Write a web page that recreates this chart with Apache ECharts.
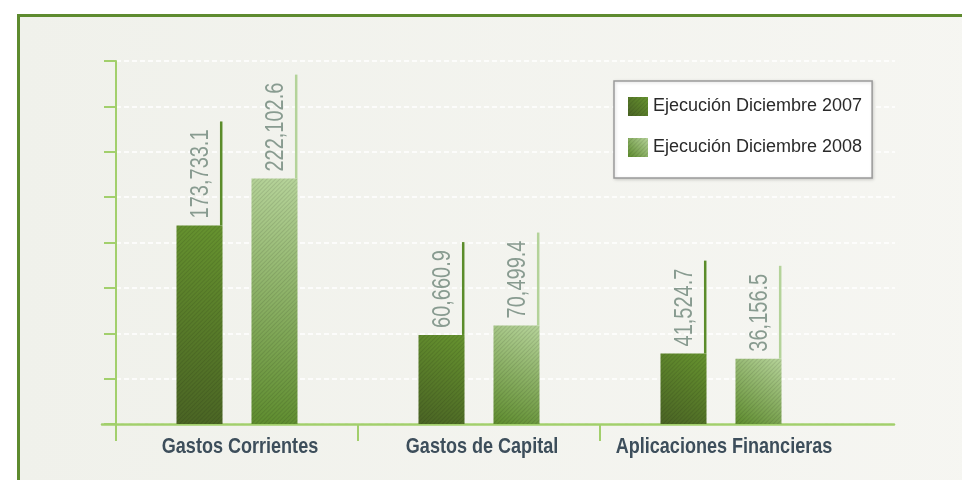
<!DOCTYPE html>
<html><head><meta charset="utf-8">
<script src="https://cdn.jsdelivr.net/npm/echarts@6/dist/echarts.min.js"></script>
<style>html,body{margin:0;padding:0;background:#fff}#c{width:962px;height:480px}</style>
</head><body><div id="c"></div>
<script>
// ---- data ----
const categories = ['Gastos Corrientes', 'Gastos de Capital', 'Aplicaciones Financieras'];
const seriesNames = ['Ejecución Diciembre 2007', 'Ejecución Diciembre 2008'];
const values2007 = [173733.1, 60660.9, 41524.7];
const values2008 = [222102.6, 70499.4, 36156.5];

// ---- styling / layout ----
const FONT = '"Liberation Sans", Arial, sans-serif';
const GREEN_AXIS = '#a2cf6c';
const LABEL_FONT_SIZE = 25;
const BAR_W = 46, BAR_GAP = '63%';
const PLOT_TOP = 61, PLOT_H = 363;
const BAND = 242;
const Y_MIN = -31300, Y_MAX = 343500;

function fmt(v) {
  return v.toLocaleString('en-US', {minimumFractionDigits: 1, maximumFractionDigits: 1});
}
const mctx = document.createElement('canvas').getContext('2d');
mctx.font = LABEL_FONT_SIZE + 'px ' + FONT;
function measure(t) { return mctx.measureText(t).width; }
const LABEL_SCALE = 0.8;

const grad2007 = new echarts.graphic.LinearGradient(0, 1, 1, 0, [
  {offset: 0, color: '#4a6424'}, {offset: 1, color: '#66932f'}]);
const grad2008 = new echarts.graphic.LinearGradient(0, 1, 1, 0, [
  {offset: 0, color: '#5e8c2e'}, {offset: 1, color: '#b6d39a'}]);
const hatch = {symbol: 'rect', symbolSize: 1, dashArrayX: [1, 0], dashArrayY: [1, 2],
  rotation: -Math.PI / 4, color: 'rgba(0,0,0,0.10)'};

function annot(seriesIdx, lineColor) {
  return function (params, api) {
    const cat = api.value(0), val = api.value(1);
    const pt = api.coord([cat, val]);
    let off;
    const lay = api.barLayout ? api.barLayout({count: 2, barWidth: BAR_W, barGap: BAR_GAP}) : null;
    if (lay && lay[seriesIdx]) off = lay[seriesIdx].offset + lay[seriesIdx].width;
    else off = (seriesIdx === 0 ? -BAR_W * 0.315 : BAR_W * 1.315);
    const xr = pt[0] + off - 1.3;
    const label = fmt(val);
    const tw = measure(label) * LABEL_SCALE;
    return {
      type: 'group',
      children: [
        {type: 'line', shape: {x1: xr, y1: pt[1], x2: xr, y2: pt[1] - tw - 15},
          style: {stroke: lineColor, lineWidth: 2.5}},
        {type: 'text', x: xr - 20, y: pt[1] - 7, rotation: Math.PI / 2, scaleX: LABEL_SCALE,
          style: {text: label, fontSize: LABEL_FONT_SIZE, fontFamily: FONT,
            fill: '#889b90', align: 'left', verticalAlign: 'middle'}}
      ]
    };
  };
}

function catLabel(params, api) {
  const i = api.value(0);
  const x = api.coord([i, 0])[0];
  const cs = params.coordSys;
  return {
    type: 'text', x: x + 3, y: cs.y + cs.height + 12, scaleX: 0.82,
    style: {text: categories[params.dataIndex], fontSize: 22, fontWeight: 'bold', fontFamily: FONT,
      fill: '#3d4e5b', align: 'center', verticalAlign: 'top'}
  };
}

const chart = echarts.init(document.getElementById('c'), null, {renderer: 'canvas'});
chart.setOption({
  animation: false,
  backgroundColor: '#ffffff',
  graphic: [{
    type: 'rect', z: -10, left: 17, top: 14,
    shape: {width: 1000, height: 520},
    style: {
      fill: new echarts.graphic.LinearGradient(0, 0, 1, 0, [
        {offset: 0, color: '#f0f1eb'}, {offset: 1, color: '#f6f6f2'}]),
      stroke: '#5e8b2f', lineWidth: 3
    }
  }],
  legend: {
    data: seriesNames, orient: 'vertical', left: 614, top: 81,
    itemWidth: 20, itemHeight: 19, itemGap: 22, icon: 'rect',
    padding: [16, 10, 21, 14],
    backgroundColor: '#ffffff', borderColor: '#9a9a9a', borderWidth: 1.5,
    shadowColor: 'rgba(0,0,0,0.15)', shadowBlur: 3, shadowOffsetX: 1, shadowOffsetY: 1,
    textStyle: {fontSize: 18, fontFamily: FONT, color: '#2a2a2a'}
  },
  grid: [
    {left: 102, top: PLOT_TOP, width: 792, height: PLOT_H, outerBoundsMode: 'none', containLabel: false},
    {left: 116, top: PLOT_TOP, width: 779, height: PLOT_H, outerBoundsMode: 'none', containLabel: false},
    {left: 116, top: PLOT_TOP, width: BAND * 4, height: PLOT_H, outerBoundsMode: 'none', containLabel: false}
  ],
  xAxis: [
    {gridIndex: 0, type: 'value', min: 0, max: 1, axisLine: {show: true, onZero: false, lineStyle: {color: GREEN_AXIS, width: 2.5}},
      axisTick: {show: false}, axisLabel: {show: false}, splitLine: {show: false}},
    {gridIndex: 1, type: 'value', min: 0, max: 1, show: false},
    {gridIndex: 2, type: 'category', data: categories, max: 3,
      axisLine: {show: false, onZero: false},
      axisTick: {show: true, length: 17, interval: function (i) { return i < categories.length; },
        lineStyle: {color: GREEN_AXIS, width: 2}},
      axisLabel: {show: false}}
  ],
  yAxis: [
    {gridIndex: 0, type: 'value', min: 0, max: 1, show: false},
    {gridIndex: 1, type: 'value', min: 0, max: 8, interval: 1,
      axisLine: {show: true, lineStyle: {color: GREEN_AXIS, width: 2}},
      axisTick: {show: true, length: 12, lineStyle: {color: GREEN_AXIS, width: 2}},
      axisLabel: {show: false},
      splitLine: {show: true, lineStyle: {color: '#ffffff', width: 1.5, type: [5, 3]}}},
    {gridIndex: 2, type: 'value', min: Y_MIN, max: Y_MAX, startValue: Y_MIN, show: false}
  ],
  series: [
    {name: seriesNames[0], type: 'bar', xAxisIndex: 2, yAxisIndex: 2, data: values2007,
      barWidth: BAR_W, barGap: BAR_GAP, itemStyle: {color: grad2007, decal: hatch}},
    {name: seriesNames[1], type: 'bar', xAxisIndex: 2, yAxisIndex: 2, data: values2008,
      barWidth: BAR_W, barGap: BAR_GAP, itemStyle: {color: grad2008, decal: hatch}},
    {type: 'custom', xAxisIndex: 2, yAxisIndex: 2, z: 5,
      data: values2007.map(function (v, i) { return [i, v]; }),
      renderItem: annot(0, '#5b8c2a')},
    {type: 'custom', xAxisIndex: 2, yAxisIndex: 2, z: 5,
      data: values2008.map(function (v, i) { return [i, v]; }),
      renderItem: annot(1, '#b4d39a')},
    {type: 'custom', xAxisIndex: 2, yAxisIndex: 2, z: 5, clip: false,
      data: categories.map(function (c, i) { return [i, 0]; }),
      renderItem: catLabel}
  ]
});
</script>
</body></html>
